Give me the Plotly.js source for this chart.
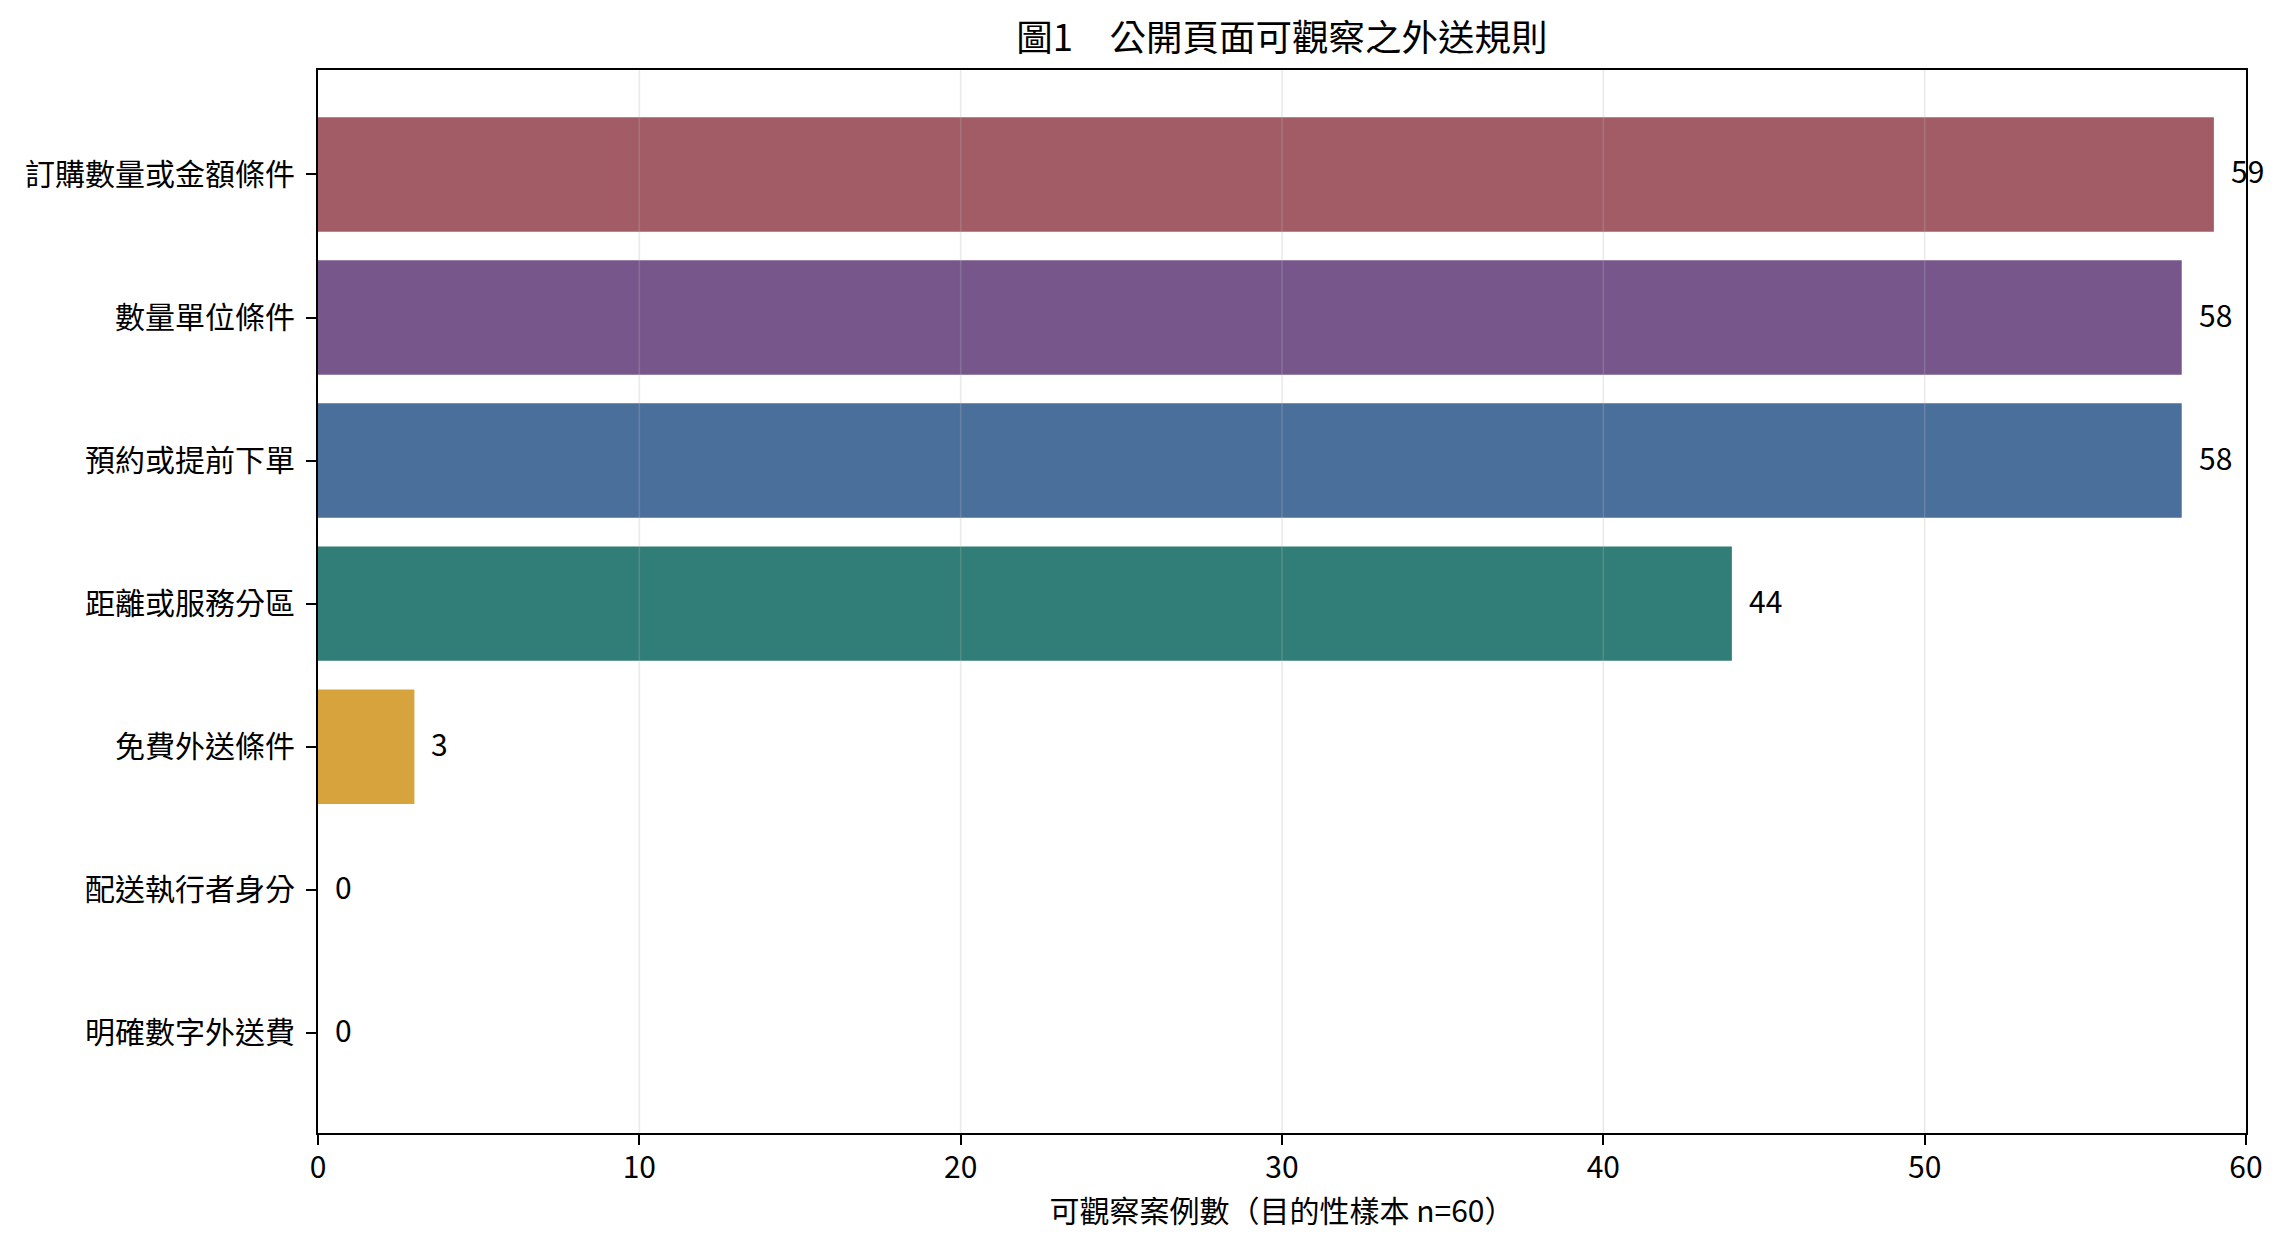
<!DOCTYPE html>
<html>
<head>
<meta charset="utf-8">
<script src="https://cdn.plot.ly/plotly-3.0.1.min.js"></script>
<style>
  html, body { margin: 0; padding: 0; background: #ffffff; }
  #chart { width: 2285px; height: 1251px; }
</style>
</head>
<body>
<div id="chart"></div>
<script>
// 外送規則類別與可觀察案例數
const categories = [
    '訂購數量或金額條件',
    '數量單位條件',
    '預約或提前下單',
    '距離或服務分區',
    '免費外送條件',
    '配送執行者身分',
    '明確數字外送費'
];
const counts = [59, 58, 58, 44, 3, 0, 0];
const barColors = ['#A15C66', '#77568C', '#4A6F9B', '#317D77', '#D6A33D', '#8C8C8C', '#5E5E5E'];
const xTicks = [0, 10, 20, 30, 40, 50, 60];

const FONT = '"Noto Sans CJK TC", "Noto Sans", sans-serif';

const trace = {
    type: 'bar',
    orientation: 'h',
    x: counts,
    y: categories,
    width: 0.8,
    marker: { color: barColors, line: { width: 0 } },
    hoverinfo: 'x+y'
};

// 數值標籤放在長條右側
const annotations = categories.map((c, i) => ({
    x: counts[i],
    y: c,
    xref: 'x',
    yref: 'y',
    text: String(counts[i]),
    showarrow: false,
    xanchor: 'left',
    yanchor: 'middle',
    xshift: 15,
    yshift: 4,
    font: { family: FONT, size: 30, color: '#000000' }
}));

// 格線疊在長條上方（淡灰）
const gridShapes = xTicks.slice(1, -1).map(v => ({
    type: 'line',
    xref: 'x',
    yref: 'paper',
    x0: v, x1: v, y0: 0, y1: 1,
    layer: 'above',
    line: { color: 'rgba(180,180,180,0.28)', width: 1.6 }
}));

const layout = {
    width: 2285,
    height: 1251,
    paper_bgcolor: '#ffffff',
    plot_bgcolor: '#ffffff',
    font: { family: FONT, size: 30, color: '#000000' },
    margin: { l: 318, r: 39, t: 70, b: 118 },
    showlegend: false,
    title: {
        text: '圖1\u3000公開頁面可觀察之外送規則',
        x: 0.5,
        xref: 'paper',
        xanchor: 'center',
        y: 1 - 38 / 1251,
        yref: 'container',
        yanchor: 'middle',
        font: { family: FONT, size: 36.5, color: '#000000' }
    },
    xaxis: {
        range: [0, 60],
        tickvals: xTicks,
        ticktext: xTicks.map(String),
        ticks: 'outside',
        ticklen: 10,
        tickwidth: 2,
        tickcolor: '#000000',
        showline: true,
        linecolor: '#000000',
        linewidth: 2,
        mirror: true,
        showgrid: false,
        zeroline: false,
        ticklabelstandoff: -3,
        tickfont: { family: FONT, size: 30 },
        title: {
            text: '可觀察案例數（目的性樣本 n=60）',
            standoff: 14,
            font: { family: FONT, size: 30 }
        }
    },
    yaxis: {
        type: 'category',
        range: [6.7, -0.73],
        ticks: 'outside',
        ticklen: 10,
        tickwidth: 2,
        tickcolor: '#000000',
        showline: true,
        linecolor: '#000000',
        linewidth: 2,
        mirror: true,
        showgrid: false,
        zeroline: false,
        ticklabelstandoff: 5,
        tickfont: { family: FONT, size: 30 }
    },
    shapes: gridShapes,
    annotations: annotations,
    bargap: 0.2
};

Plotly.newPlot('chart', [trace], layout, { displayModeBar: false, responsive: false });
</script>
</body>
</html>
